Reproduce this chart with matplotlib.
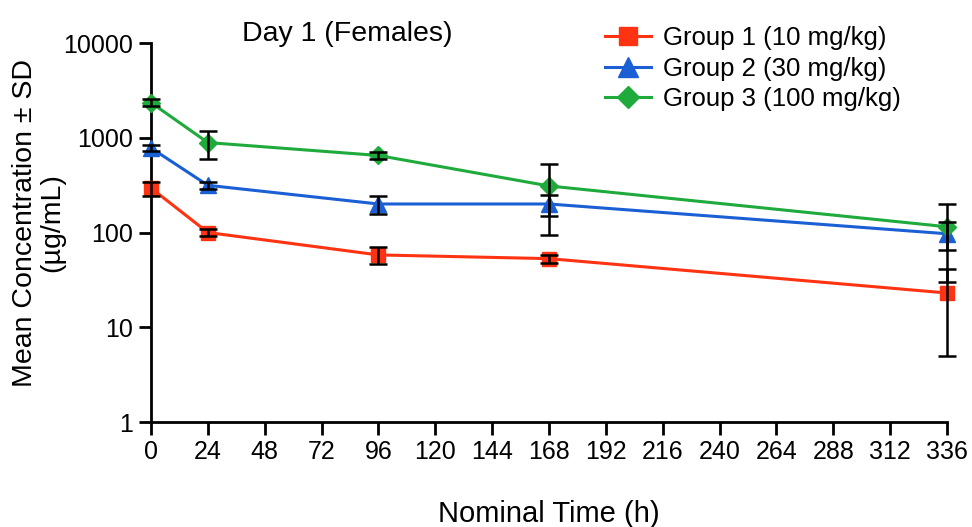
import numpy as np
import matplotlib
matplotlib.use("Agg")
import matplotlib.pyplot as plt
from matplotlib.ticker import FixedLocator, FixedFormatter, NullLocator

plt.rcParams['font.family'] = ['Liberation Sans', 'DejaVu Sans']

# data
time_h = [0, 24, 96, 168, 336]
g1_mean = [295, 100, 58, 53, 23]
g1_sd = [50, 8, 12, 5, 18]
g2_mean = [780, 315, 200, 200, 97]
g2_sd = [60, 30, 45, 50, 32]
g3_mean = [2350, 890, 650, 310, 115]
g3_sd = [200, 300, 60, 215, 85]

labels = ['Group 1 (10 mg/kg)', 'Group 2 (30 mg/kg)', 'Group 3 (100 mg/kg)']
colors = ['#FF3311', '#1A5FD4', '#1FAA3C']
markers = ['s', '^', 'D']
msizes = [10.5, 11.5, 9.5]

xticks = list(range(0, 337, 24))
yticks = [1, 10, 100, 1000, 10000]
ytick_labels = ['1', '10', '100', '1000', '10000']

fig = plt.figure(figsize=(9.72, 5.27), dpi=100)
ax = fig.add_axes([0.1553, 0.1992, 0.819, 0.7192])

series = [(g1_mean, g1_sd), (g2_mean, g2_sd), (g3_mean, g3_sd)]
handles = []
for (m, s), lab, c, mk, ms in zip(series, labels, colors, markers, msizes):
    m = np.array(m, dtype=float)
    s = np.array(s, dtype=float)
    lo = np.minimum(s, m * 0.999)
    eb = ax.errorbar(time_h, m, yerr=[lo, s], fmt='none', ecolor='black',
                     elinewidth=1.8, capsize=6.5, capthick=1.8, zorder=4)
    for art in eb.lines[1]:
        art.set_clip_on(False)
    for art in eb.lines[2]:
        art.set_clip_on(False)
    ln, = ax.plot(time_h, m, color=c, marker=mk, markersize=ms, linewidth=2.2,
                  label=lab, zorder=3, clip_on=False)
    handles.append(ln)

ax.set_yscale('log')
ax.set_xlim(0, 336)
ax.set_ylim(1, 10000)
ax.yaxis.set_major_locator(FixedLocator(yticks))
ax.yaxis.set_major_formatter(FixedFormatter(ytick_labels))
ax.yaxis.set_minor_locator(NullLocator())
ax.set_xticks(xticks)

for side in ['top', 'right']:
    ax.spines[side].set_visible(False)
for side in ['left', 'bottom']:
    ax.spines[side].set_linewidth(2)
ax.tick_params(axis='both', which='major', length=9, width=2, labelsize=18,
               direction='out', pad=4)

ax.set_xlabel('Nominal Time (h)', fontsize=21, labelpad=26)
ax.set_ylabel('Mean Concentration \u00b1 SD\n(\u00b5g/mL)', fontsize=20.5,
              linespacing=1.05)
ax.yaxis.set_label_coords(-0.108, 0.525)

fig.text(0.357, 0.935, 'Day 1 (Females)', fontsize=20.5, ha='center', va='center')

fig.legend(handles=handles, loc='upper left', bbox_to_anchor=(0.612, 0.97),
           frameon=False, fontsize=18.5, handlelength=1.8, handletextpad=0.45,
           labelspacing=0.25, borderaxespad=0, markerscale=1.2)

fig.savefig('out.png', dpi=100)
